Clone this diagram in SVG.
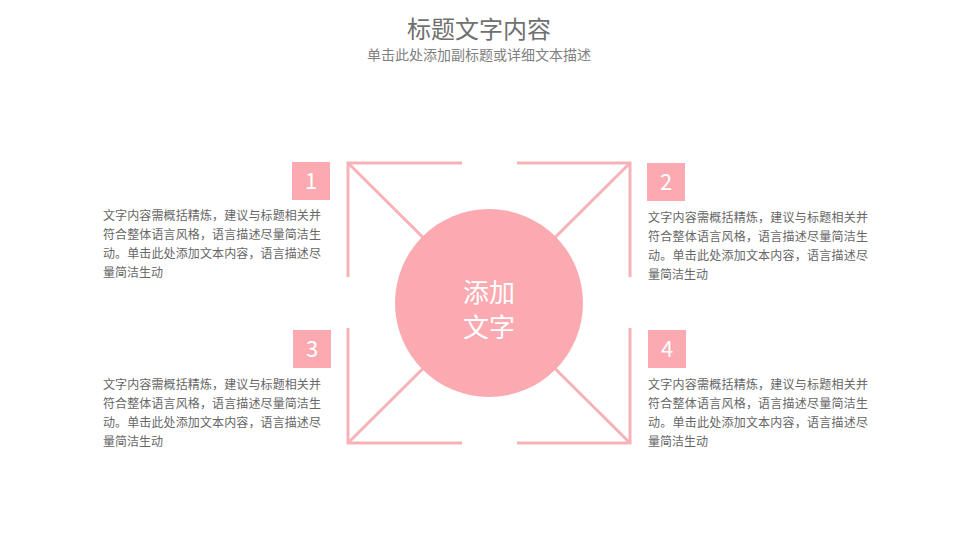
<svg xmlns="http://www.w3.org/2000/svg" width="960" height="540" viewBox="0 0 960 540">
<style>
.t{font-family:"Microsoft YaHei","Noto Sans CJK SC","Liberation Sans",sans-serif;}
.ln{stroke:#F7B2B8;stroke-width:3;fill:none;}
.box{fill:#FBAAB1;}
.num{font-size:22px;fill:#FFFFFF;text-anchor:middle;}
.body{font-size:12px;fill:#666666;}
</style>
<rect width="960" height="540" fill="#FFFFFF"/>
<g id="title">
<text class="t" x="479" y="38" font-size="24" fill="#707070" text-anchor="middle">标题文字内容</text>
<text class="t" x="479" y="60" font-size="14" fill="#808080" text-anchor="middle">单击此处添加副标题或详细文本描述</text>
</g>
<g id="connectors">
<path class="ln" d="M462,163 H348 V277"/>
<path class="ln" d="M517,163 H630 V277"/>
<path class="ln" d="M348,328 V443 H462"/>
<path class="ln" d="M630,328 V443 H517"/>
<path class="ln" d="M348,163 L630,443"/>
<path class="ln" d="M630,163 L348,443"/>
</g>
<g id="center">
<circle cx="489" cy="303" r="94" fill="#FBAAB1"/>
<text class="t" x="489" y="302" font-size="26" fill="#FFFFFF" text-anchor="middle">添加</text>
<text class="t" x="489" y="337" font-size="26" fill="#FFFFFF" text-anchor="middle">文字</text>
</g>
<g id="node1">
<rect class="box" x="292" y="162" width="38" height="38"/>
<text class="t num" x="311" y="189">1</text>
<text class="t body" x="103" y="220" textLength="218">文字内容需概括精炼，建议与标题相关并</text>
<text class="t body" x="103" y="239" textLength="218">符合整体语言风格，语言描述尽量简洁生</text>
<text class="t body" x="103" y="258" textLength="218">动。单击此处添加文本内容，语言描述尽</text>
<text class="t body" x="103" y="277">量简洁生动</text>
</g>
<g id="node2">
<rect class="box" x="647" y="163" width="38" height="38"/>
<text class="t num" x="666" y="190">2</text>
<text class="t body" x="648" y="222" textLength="220">文字内容需概括精炼，建议与标题相关并</text>
<text class="t body" x="648" y="241" textLength="220">符合整体语言风格，语言描述尽量简洁生</text>
<text class="t body" x="648" y="260" textLength="220">动。单击此处添加文本内容，语言描述尽</text>
<text class="t body" x="648" y="279">量简洁生动</text>
</g>
<g id="node3">
<rect class="box" x="293" y="330" width="38" height="38"/>
<text class="t num" x="312" y="357">3</text>
<text class="t body" x="103" y="389" textLength="218">文字内容需概括精炼，建议与标题相关并</text>
<text class="t body" x="103" y="408" textLength="218">符合整体语言风格，语言描述尽量简洁生</text>
<text class="t body" x="103" y="427" textLength="218">动。单击此处添加文本内容，语言描述尽</text>
<text class="t body" x="103" y="446">量简洁生动</text>
</g>
<g id="node4">
<rect class="box" x="648" y="330" width="38" height="38"/>
<text class="t num" x="667" y="357">4</text>
<text class="t body" x="648" y="389" textLength="220">文字内容需概括精炼，建议与标题相关并</text>
<text class="t body" x="648" y="408" textLength="220">符合整体语言风格，语言描述尽量简洁生</text>
<text class="t body" x="648" y="427" textLength="220">动。单击此处添加文本内容，语言描述尽</text>
<text class="t body" x="648" y="446">量简洁生动</text>
</g>
</svg>
